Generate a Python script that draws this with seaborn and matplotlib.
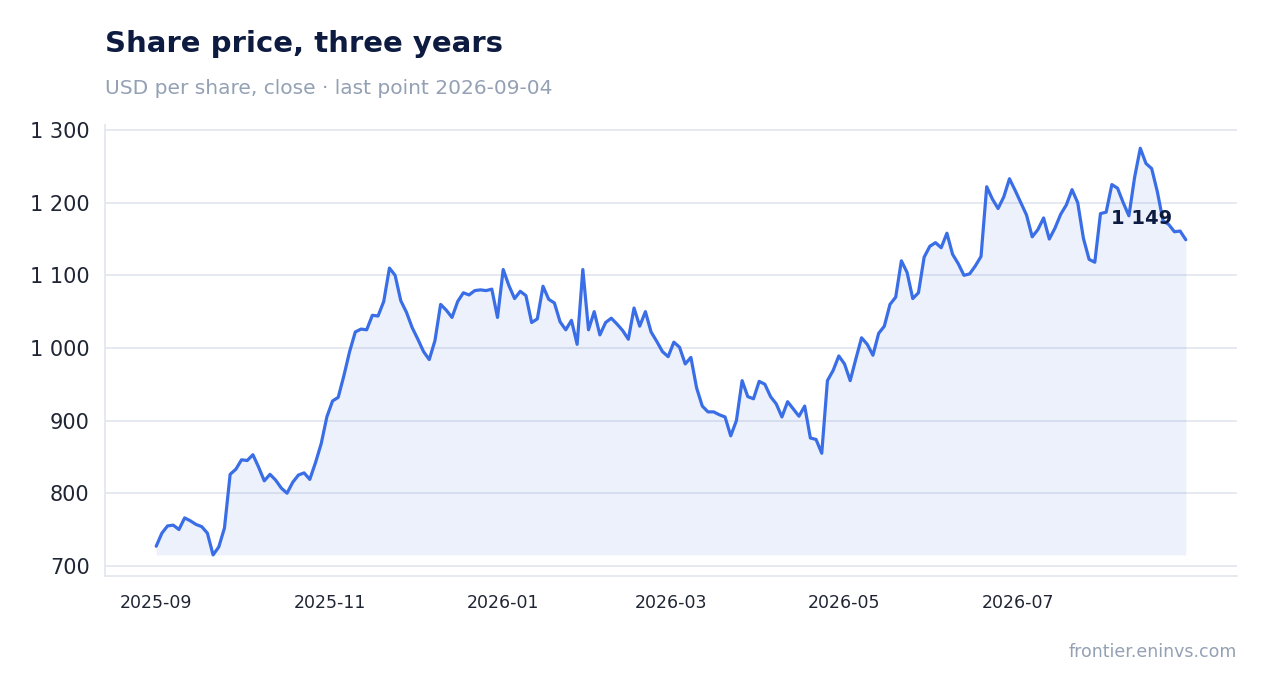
import pandas as pd
import matplotlib.pyplot as plt
import matplotlib.dates as mdates
import seaborn as sns

# closing prices, one value every two days from 2025-09-01
price = [
    727, 745, 755, 756, 750, 766, 762, 757, 754, 745,
    715, 726, 752, 826, 833, 846, 845, 853, 836, 817,
    826, 818, 807, 800, 815, 825, 828, 819, 842, 868,
    905, 927, 932, 962, 995, 1022, 1026, 1025, 1045, 1044,
    1064, 1110, 1100, 1065, 1049, 1028, 1012, 995, 984, 1010,
    1060, 1052, 1042, 1064, 1076, 1073, 1079, 1080, 1079, 1081,
    1042, 1108, 1086, 1068, 1078, 1072, 1035, 1040, 1085, 1067,
    1062, 1036, 1025, 1038, 1005, 1108, 1025, 1050, 1018, 1035,
    1041, 1033, 1024, 1012, 1055, 1030, 1050, 1022, 1009, 995,
    988, 1008, 1001, 978, 987, 945, 920, 912, 912, 908,
    905, 879, 900, 955, 933, 930, 954, 950, 933, 923,
    905, 926, 916, 906, 920, 876, 874, 855, 955, 969,
    989, 978, 955, 985, 1014, 1005, 990, 1020, 1030, 1060,
    1070, 1120, 1104, 1068, 1076, 1125, 1140, 1145, 1138, 1158,
    1129, 1116, 1100, 1102, 1113, 1126, 1222, 1205, 1192, 1208,
    1233, 1217, 1200, 1183, 1153, 1163, 1179, 1150, 1165, 1184,
    1197, 1218, 1200, 1151, 1122, 1118, 1185, 1187, 1225, 1220,
    1200, 1182, 1235, 1275, 1254, 1247, 1215, 1175, 1170, 1160,
    1161, 1149,
]
dates = pd.date_range("2025-09-01", periods=len(price), freq="2D")
df = pd.DataFrame({"date": dates, "close": price})

x_ticks = ["2025-09-01", "2025-11-01", "2026-01-01", "2026-03-01", "2026-05-01", "2026-07-01"]
y_ticks = [700, 800, 900, 1000, 1100, 1200, 1300]

title = "Share price, three years"
subtitle = "USD per share, close · last point 2026-09-04"
source = "frontier.eninvs.com"

blue = "#3a6ee6"
navy = "#0d1b40"
grey = "#94a0b4"

sns.set_theme(style="white")
plt.rcParams["font.family"] = ["DejaVu Sans"]

fig = plt.figure(figsize=(12.67, 6.93), dpi=100)
ax = fig.add_axes([105 / 1267, 1 - 576 / 693, 1132 / 1267, 451 / 693])

ax.fill_between(df["date"], df["close"], min(price), color=blue, alpha=0.09, linewidth=0)
sns.lineplot(data=df, x="date", y="close", ax=ax, color=blue, linewidth=2.3)

# label on the last point
last = df.iloc[-1]
ax.annotate(f"{last['close']:,}".replace(",", " "), (last["date"], last["close"]),
            xytext=(-14, 21), textcoords="offset pixels", ha="right", va="center",
            fontsize=14, fontweight="bold", color=navy)

ax.set_xlim(pd.Timestamp("2025-08-14"), pd.Timestamp("2026-09-16"))
ax.set_ylim(686, 1307)
ax.set_xticks(pd.to_datetime(x_ticks))
ax.xaxis.set_major_formatter(mdates.DateFormatter("%Y-%m"))
ax.set_yticks(y_ticks)
ax.set_yticklabels([f"{v:,}".replace(",", " ") for v in y_ticks])
ax.set_xlabel("")
ax.set_ylabel("")

ax.grid(axis="y", color="#e1e5ee", linewidth=1.2)
ax.grid(axis="x", visible=False)
ax.set_axisbelow(True)
for side in ["top", "right"]:
    ax.spines[side].set_visible(False)
for side in ["left", "bottom"]:
    ax.spines[side].set_color("#e1e5ee")
    ax.spines[side].set_linewidth(1.2)
ax.tick_params(axis="y", labelsize=15, colors="#1f2533", length=5, width=1.2, pad=6)
ax.tick_params(axis="x", labelsize=12.5, colors="#1f2533", length=5, width=1.2, pad=8)

fig.text(105 / 1267, 1 - 44 / 693, title, fontsize=21, fontweight="bold", color=navy, va="center")
fig.text(105 / 1267, 1 - 88 / 693, subtitle, fontsize=14.5, color=grey, va="center")
fig.text(1237 / 1267, 1 - 652 / 693, source, fontsize=12.5, color=grey, va="center", ha="right")

fig.savefig("out.png", dpi=100)
